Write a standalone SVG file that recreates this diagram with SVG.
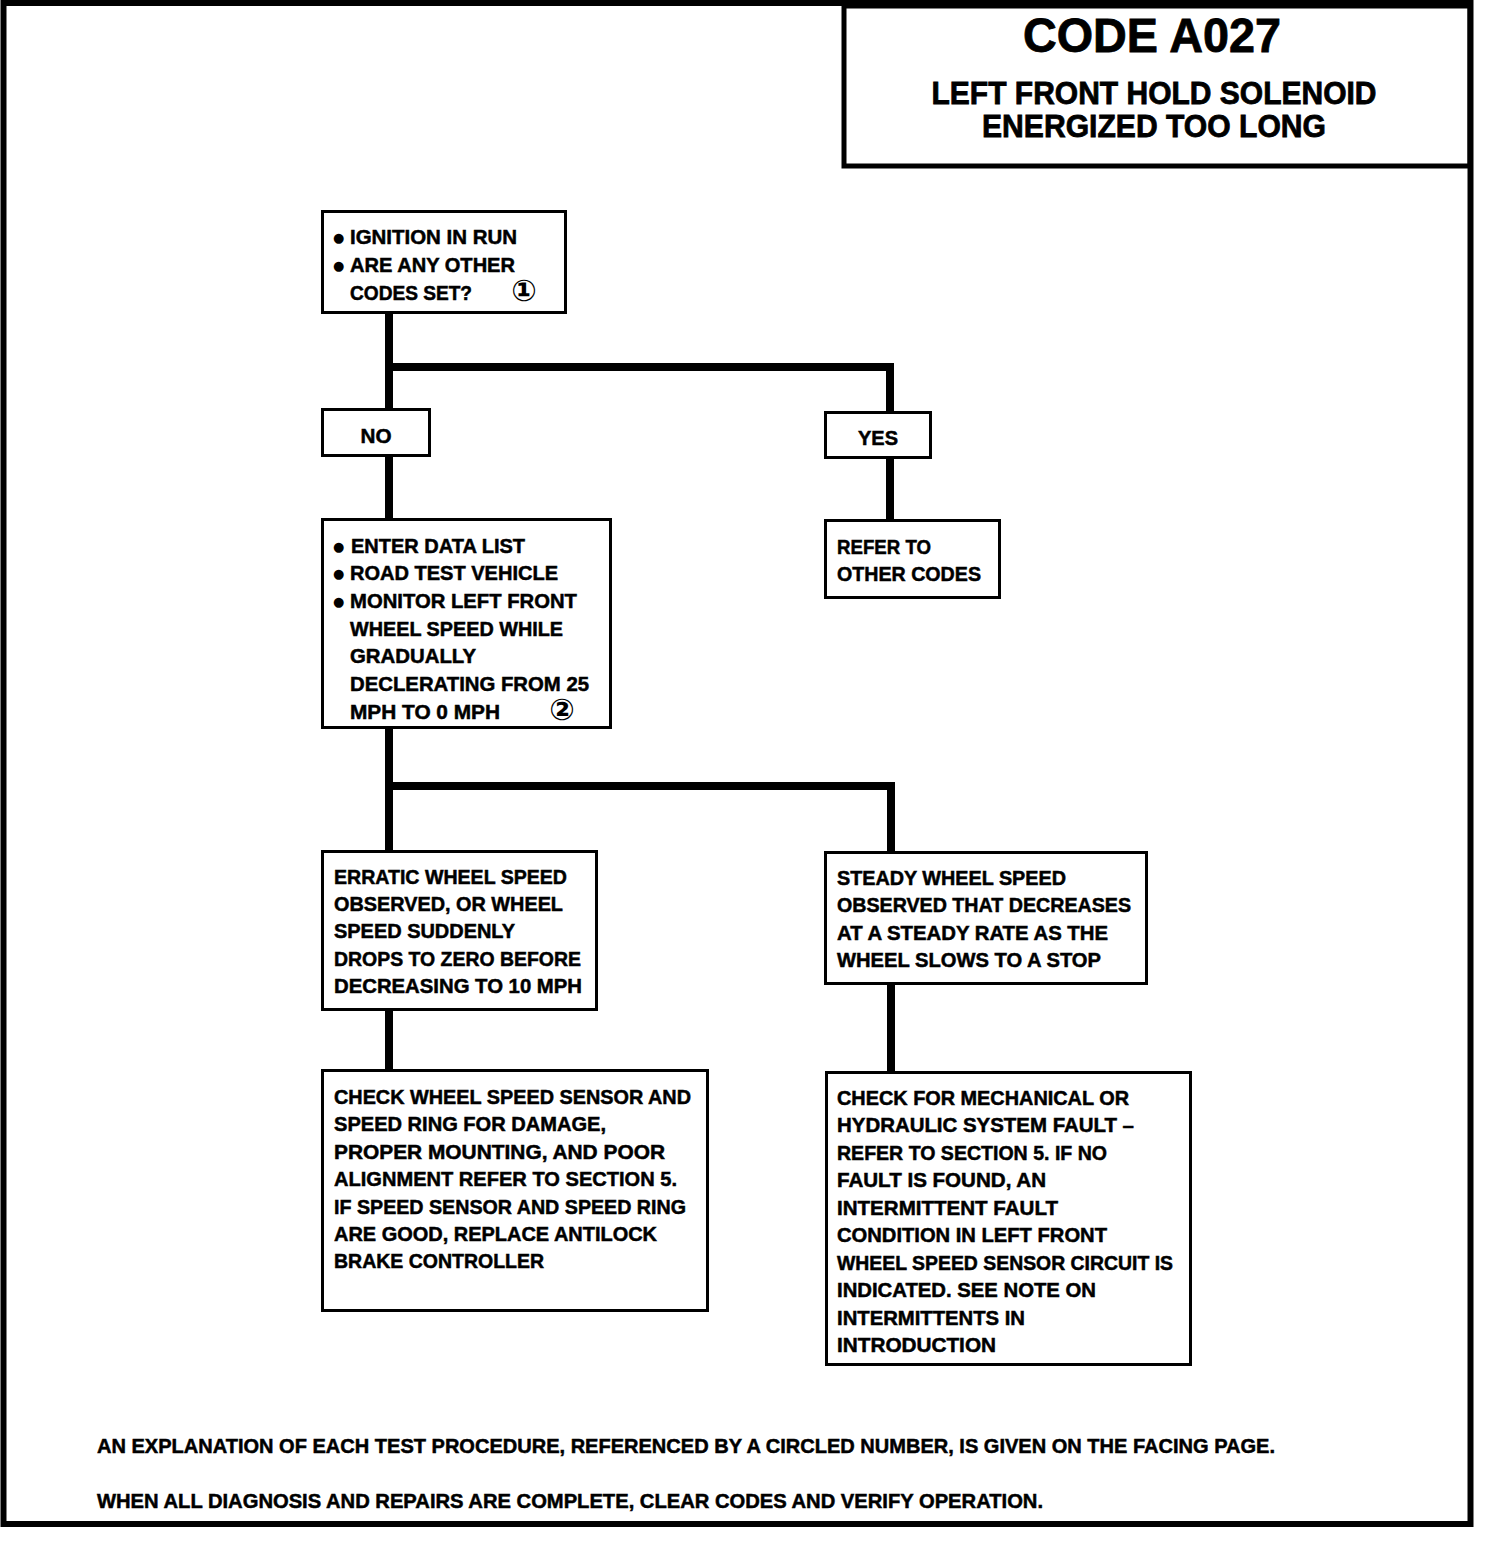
<svg xmlns="http://www.w3.org/2000/svg" width="1504" height="1550" viewBox="0 0 1504 1550">
<style>
.box{fill:#fff;stroke:#000;stroke-width:3}
.t{font-family:"Liberation Sans",Arial,sans-serif;font-weight:bold;font-size:20px;fill:#000;stroke:#000;stroke-width:0.5}
.b{font-family:"DejaVu Sans",sans-serif;font-size:13px;fill:#000}
.c{font-family:"DejaVu Sans",sans-serif;font-weight:bold;font-size:30px;fill:#000;text-anchor:middle}
.h{font-family:"Liberation Sans",Arial,sans-serif;font-weight:bold;fill:#000;stroke:#000;stroke-width:0.8;text-anchor:middle}
.ln{fill:none;stroke:#000;stroke-width:8;stroke-linejoin:miter}
</style>
<rect x="0" y="0" width="1504" height="1550" fill="#fff"/>
<rect id="frame" x="3.5" y="3" width="1467" height="1521" fill="none" stroke="#000" stroke-width="6"/>
<g id="title">
<rect x="844" y="6" width="626" height="160" fill="none" stroke="#000" stroke-width="5"/>
<text class="h" x="1152" y="52" font-size="48" textLength="258" lengthAdjust="spacingAndGlyphs">CODE A027</text>
<text class="h" x="1154" y="104" font-size="32" textLength="445" lengthAdjust="spacingAndGlyphs">LEFT FRONT HOLD SOLENOID</text>
<text class="h" x="1154" y="137" font-size="32" textLength="344" lengthAdjust="spacingAndGlyphs">ENERGIZED TOO LONG</text>
</g>
<g id="connectors">
<polyline class="ln" points="389,313 389,410"/>
<polyline class="ln" points="389,367 890,367 890,413"/>
<polyline class="ln" points="389,456 389,519"/>
<polyline class="ln" points="890,458 890,520"/>
<polyline class="ln" points="389,728 389,851"/>
<polyline class="ln" points="389,786 891,786 891,852"/>
<polyline class="ln" points="389,1010 389,1070"/>
<polyline class="ln" points="891,984 891,1072"/>
</g>
<g id="start">
<rect class="box" x="322.5" y="211.5" width="243" height="101"/>
<text class="b" x="333" y="242">●</text>
<text class="t" x="350" y="244" textLength="167" lengthAdjust="spacingAndGlyphs">IGNITION IN RUN</text>
<text class="b" x="333" y="270">●</text>
<text class="t" x="350" y="272" textLength="165" lengthAdjust="spacingAndGlyphs">ARE ANY OTHER</text>
<text class="t" x="350" y="300" textLength="122" lengthAdjust="spacingAndGlyphs">CODES SET?</text>
<text class="c" x="524" y="301">①</text>
</g>
<g id="no">
<rect class="box" x="322.5" y="409.5" width="107" height="46"/>
<text class="t" x="376" y="443" text-anchor="middle" textLength="31" lengthAdjust="spacingAndGlyphs">NO</text>
</g>
<g id="yes">
<rect class="box" x="825.5" y="412.5" width="105" height="45"/>
<text class="t" x="878" y="445" text-anchor="middle" textLength="40" lengthAdjust="spacingAndGlyphs">YES</text>
</g>
<g id="refer">
<rect class="box" x="825.5" y="520.5" width="174" height="77"/>
<text class="t" x="837" y="554" textLength="94" lengthAdjust="spacingAndGlyphs">REFER TO</text>
<text class="t" x="837" y="581" textLength="144" lengthAdjust="spacingAndGlyphs">OTHER CODES</text>
</g>
<g id="datalist">
<rect class="box" x="322.5" y="519.5" width="288" height="208"/>
<text class="b" x="333" y="551">●</text>
<text class="t" x="351" y="553" textLength="174" lengthAdjust="spacingAndGlyphs">ENTER DATA LIST</text>
<text class="b" x="333" y="578">●</text>
<text class="t" x="350" y="580" textLength="208" lengthAdjust="spacingAndGlyphs">ROAD TEST  VEHICLE</text>
<text class="b" x="333" y="606">●</text>
<text class="t" x="350" y="608" textLength="227" lengthAdjust="spacingAndGlyphs">MONITOR LEFT FRONT</text>
<text class="t" x="350" y="636" textLength="213" lengthAdjust="spacingAndGlyphs">WHEEL SPEED WHILE</text>
<text class="t" x="350" y="663" textLength="126" lengthAdjust="spacingAndGlyphs">GRADUALLY</text>
<text class="t" x="350" y="691" textLength="239" lengthAdjust="spacingAndGlyphs">DECLERATING FROM 25</text>
<text class="t" x="350" y="719" textLength="150" lengthAdjust="spacingAndGlyphs">MPH TO 0 MPH</text>
<text class="c" x="562" y="720">②</text>
</g>
<g id="erratic">
<rect class="box" x="322.5" y="851.5" width="274" height="158"/>
<text class="t" x="334" y="884" textLength="233" lengthAdjust="spacingAndGlyphs">ERRATIC WHEEL SPEED</text>
<text class="t" x="334" y="911" textLength="229" lengthAdjust="spacingAndGlyphs">OBSERVED, OR WHEEL</text>
<text class="t" x="334" y="938" textLength="181" lengthAdjust="spacingAndGlyphs">SPEED SUDDENLY</text>
<text class="t" x="334" y="966" textLength="247" lengthAdjust="spacingAndGlyphs">DROPS TO ZERO BEFORE</text>
<text class="t" x="334" y="993" textLength="248" lengthAdjust="spacingAndGlyphs">DECREASING TO 10 MPH</text>
</g>
<g id="steady">
<rect class="box" x="825.5" y="852.5" width="321" height="131"/>
<text class="t" x="837" y="885" textLength="229" lengthAdjust="spacingAndGlyphs">STEADY WHEEL SPEED</text>
<text class="t" x="837" y="912" textLength="294" lengthAdjust="spacingAndGlyphs">OBSERVED THAT DECREASES</text>
<text class="t" x="837" y="940" textLength="271" lengthAdjust="spacingAndGlyphs">AT A STEADY RATE AS THE</text>
<text class="t" x="837" y="967" textLength="264" lengthAdjust="spacingAndGlyphs">WHEEL SLOWS TO A STOP</text>
</g>
<g id="check-sensor">
<rect class="box" x="322.5" y="1070.5" width="385" height="240"/>
<text class="t" x="334" y="1104" textLength="357" lengthAdjust="spacingAndGlyphs">CHECK WHEEL SPEED SENSOR AND</text>
<text class="t" x="334" y="1131" textLength="272" lengthAdjust="spacingAndGlyphs">SPEED RING FOR DAMAGE,</text>
<text class="t" x="334" y="1159" textLength="331" lengthAdjust="spacingAndGlyphs">PROPER MOUNTING,  AND POOR</text>
<text class="t" x="334" y="1186" textLength="343" lengthAdjust="spacingAndGlyphs">ALIGNMENT REFER TO SECTION 5.</text>
<text class="t" x="334" y="1214" textLength="352" lengthAdjust="spacingAndGlyphs">IF SPEED SENSOR AND SPEED RING</text>
<text class="t" x="334" y="1241" textLength="323" lengthAdjust="spacingAndGlyphs">ARE GOOD, REPLACE ANTILOCK</text>
<text class="t" x="334" y="1268" textLength="210" lengthAdjust="spacingAndGlyphs">BRAKE CONTROLLER</text>
</g>
<g id="check-mechanical">
<rect class="box" x="826.5" y="1072.5" width="364" height="292"/>
<text class="t" x="837" y="1105" textLength="292" lengthAdjust="spacingAndGlyphs">CHECK FOR MECHANICAL OR</text>
<text class="t" x="837" y="1132" textLength="297" lengthAdjust="spacingAndGlyphs">HYDRAULIC SYSTEM FAULT –</text>
<text class="t" x="837" y="1160" textLength="270" lengthAdjust="spacingAndGlyphs">REFER TO SECTION 5. IF NO</text>
<text class="t" x="837" y="1187" textLength="209" lengthAdjust="spacingAndGlyphs">FAULT IS FOUND, AN</text>
<text class="t" x="837" y="1215" textLength="221" lengthAdjust="spacingAndGlyphs">INTERMITTENT FAULT</text>
<text class="t" x="837" y="1242" textLength="270" lengthAdjust="spacingAndGlyphs">CONDITION IN LEFT FRONT</text>
<text class="t" x="837" y="1270" textLength="336" lengthAdjust="spacingAndGlyphs">WHEEL SPEED SENSOR CIRCUIT IS</text>
<text class="t" x="837" y="1297" textLength="259" lengthAdjust="spacingAndGlyphs">INDICATED. SEE NOTE ON</text>
<text class="t" x="837" y="1325" textLength="188" lengthAdjust="spacingAndGlyphs">INTERMITTENTS IN</text>
<text class="t" x="837" y="1352" textLength="159" lengthAdjust="spacingAndGlyphs">INTRODUCTION</text>
</g>
<g id="footer">
<text class="t" x="97" y="1453" font-size="19" textLength="1178" lengthAdjust="spacingAndGlyphs">AN EXPLANATION OF EACH TEST PROCEDURE, REFERENCED BY A CIRCLED NUMBER,  IS GIVEN ON THE FACING PAGE.</text>
<text class="t" x="97" y="1508" font-size="19" textLength="946" lengthAdjust="spacingAndGlyphs">WHEN ALL DIAGNOSIS AND REPAIRS ARE COMPLETE, CLEAR CODES AND VERIFY OPERATION.</text>
</g>
</svg>
